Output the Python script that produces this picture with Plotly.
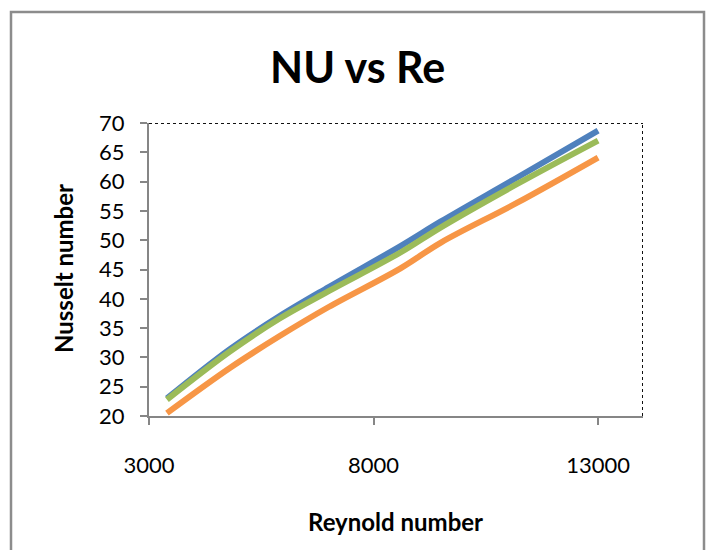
import plotly.graph_objects as go

re_vals = [3400, 4800, 5900, 7000, 8600, 9500, 11200, 13000]
nu_blue = [23.0, 31.4, 37.0, 42.0, 49.0, 53.2, 60.7, 68.7]
nu_orange = [20.5, 28.2, 33.6, 38.6, 45.2, 49.6, 56.4, 64.1]
nu_green = [22.8, 31.0, 36.6, 41.3, 47.9, 52.2, 59.6, 67.0]

x_ticks = [3000, 8000, 13000]
y_ticks = [20, 25, 30, 35, 40, 45, 50, 55, 60, 65, 70]

W, H = 710, 550
L, R, T, B = 149, 67, 123, 134
FONT = "Lato"

fig = go.Figure()
for ys, col in [(nu_blue, "#4F81BD"), (nu_orange, "#F79646"), (nu_green, "#9BBB59")]:
    fig.add_trace(go.Scatter(x=re_vals, y=ys, mode="lines",
                             line=dict(color=col, width=6, shape="spline", smoothing=1.0),
                             showlegend=False, hoverinfo="skip"))

def px_to_paper_x(px):
    return (px - L) / (W - L - R)

def px_to_paper_y(py):
    return (H - B - py) / (H - T - B)

fig.update_layout(
    width=W, height=H,
    margin=dict(l=L, r=R, t=T, b=B, pad=0),
    paper_bgcolor="white", plot_bgcolor="white",
    font=dict(family=FONT, color="black"),
    showlegend=False,
    xaxis=dict(range=[3000, 14000], tickvals=x_ticks, ticktext=[str(v) for v in x_ticks],
               showgrid=False, zeroline=False, showline=True, linecolor="#868686", linewidth=2,
               ticks="outside", ticklen=7, tickcolor="#868686", tickwidth=2,
               tickfont=dict(size=22, family=FONT), ticklabelstandoff=22),
    yaxis=dict(range=[20, 70], tickvals=y_ticks,
               showgrid=False, zeroline=False, showline=True, linecolor="#868686", linewidth=2,
               ticks="outside", ticklen=7, tickcolor="#868686", tickwidth=2,
               tickfont=dict(size=22, family=FONT), ticklabelstandoff=11),
)

# dotted plot-area border top and right
fig.add_shape(type="line", xref="x", yref="y", x0=3000, x1=14000, y0=70, y1=70,
              line=dict(color="#111111", width=2, dash="dot"))
fig.add_shape(type="line", xref="x", yref="y", x0=14000, x1=14000, y0=20, y1=70,
              line=dict(color="#111111", width=2, dash="dot"))

# outer chart border
fig.add_shape(type="rect", xref="paper", yref="paper",
              x0=px_to_paper_x(11), x1=px_to_paper_x(704),
              y0=px_to_paper_y(560), y1=px_to_paper_y(12),
              line=dict(color="#8C8C8C", width=2.5), layer="below")

fig.add_annotation(text="<b>NU vs Re</b>", xref="paper", yref="paper",
                   x=px_to_paper_x(357), y=px_to_paper_y(66), showarrow=False,
                   xanchor="center", yanchor="middle", font=dict(size=43, family=FONT))
fig.add_annotation(text="<b>Reynold number</b>", xref="paper", yref="paper",
                   x=px_to_paper_x(395), y=px_to_paper_y(521), showarrow=False,
                   xanchor="center", yanchor="middle", font=dict(size=24, family=FONT))
fig.add_annotation(text="<b>Nusselt number</b>", xref="paper", yref="paper",
                   x=px_to_paper_x(63), y=px_to_paper_y(269), showarrow=False, textangle=-90,
                   xanchor="center", yanchor="middle", font=dict(size=24, family=FONT))

fig.write_html("out.html")
